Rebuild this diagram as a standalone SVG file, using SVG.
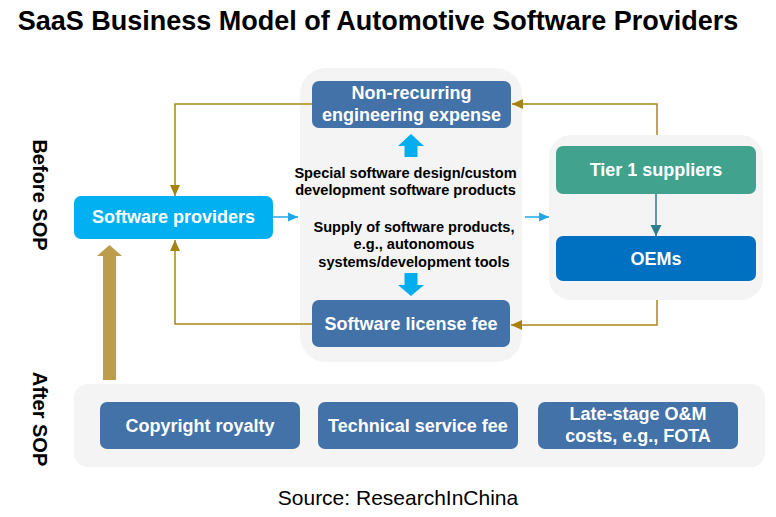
<svg xmlns="http://www.w3.org/2000/svg" width="776" height="517" viewBox="0 0 776 517">
<defs>
<marker id="mGold" markerUnits="userSpaceOnUse" markerWidth="12" markerHeight="12" viewBox="0 0 12 12" refX="11" refY="6" orient="auto">
<path d="M0,1 L11,6 L0,11 z" fill="#a8820f"/>
</marker>
<marker id="mBlue" markerUnits="userSpaceOnUse" markerWidth="10" markerHeight="10" viewBox="0 0 10 10" refX="10" refY="5" orient="auto">
<path d="M0,0.5 L10,5 L0,9.5 z" fill="#1fa8e6"/>
</marker>
<marker id="mTeal" markerUnits="userSpaceOnUse" markerWidth="12" markerHeight="12" viewBox="0 0 12 12" refX="11" refY="6" orient="auto">
<path d="M0,0.5 L11,6 L0,11.5 z" fill="#2f7d8a"/>
</marker>
</defs>
<style>
text{font-family:"Liberation Sans",Arial,sans-serif;}
.panel{fill:#f4f4f4;}
.node{stroke:none;}
.nb{fill:#4372a8;}
.lbl{fill:#ffffff;font-weight:bold;font-size:18px;text-anchor:middle;}
.mid{fill:#000000;font-weight:bold;font-size:14.6px;text-anchor:middle;}
.side{fill:#000000;font-weight:bold;font-size:20px;text-anchor:middle;}
.gold{fill:none;stroke:#ad8716;stroke-width:1.5;marker-end:url(#mGold);}
.blue{fill:none;stroke:#1fa8e6;stroke-width:1.5;marker-end:url(#mBlue);}
.teal{fill:none;stroke:#2f7d8a;stroke-width:1.5;marker-end:url(#mTeal);}
</style>
<rect width="776" height="517" fill="#ffffff"/>

<text x="378" y="30" font-size="27" font-weight="bold" text-anchor="middle" fill="#000">SaaS Business Model of Automotive Software Providers</text>

<g id="panels">
<rect class="panel" x="300" y="68" width="222" height="294" rx="26"/>
<rect class="panel" x="549" y="135" width="214" height="165" rx="22"/>
<rect class="panel" x="74" y="384" width="691" height="83" rx="14"/>
</g>

<g id="side-labels">
<text class="side" x="33" y="195" transform="rotate(90 33 195)">Before SOP</text>
<text class="side" x="33" y="419" transform="rotate(90 33 419)">After SOP</text>
</g>

<g id="connectors">
<path class="gold" d="M312,104 H175 V196"/>
<path class="gold" d="M657,135 V104 H512"/>
<path class="gold" d="M657,300 V325 H511"/>
<path class="gold" d="M312,324 H175 V240"/>
<path class="blue" d="M273,217 H298"/>
<path class="blue" d="M525,217 H549"/>
<path class="teal" d="M656,194 V236"/>
<polygon points="411,134 424,146 417.5,146 417.5,157 404.5,157 404.5,146 398,146" fill="#00aeef"/>
<polygon points="404.5,273 417.5,273 417.5,285 424,285 411,296 398,285 404.5,285" fill="#00aeef"/>
<polygon points="109.5,245 122,256 116,256 116,380 103,380 103,256 97,256" fill="#bd9c4c"/>
</g>

<g id="node-nre">
<rect class="node nb" x="312" y="81" width="199" height="47" rx="7"/>
<text class="lbl" x="411.5" y="99">Non-recurring</text>
<text class="lbl" x="411.5" y="121">engineering expense</text>
</g>

<g id="node-software-providers">
<rect class="node" x="74" y="196" width="199" height="43" rx="7" fill="#00b0f0"/>
<text class="lbl" x="173.5" y="223">Software providers</text>
</g>

<g id="node-tier1">
<rect class="node" x="556" y="146" width="200" height="48" rx="7" fill="#41a38e"/>
<text class="lbl" x="656" y="176">Tier 1 suppliers</text>
</g>

<g id="node-oems">
<rect class="node" x="556" y="236" width="200" height="45" rx="7" fill="#0070c0"/>
<text class="lbl" x="656" y="265">OEMs</text>
</g>

<g id="node-license">
<rect class="node nb" x="312" y="300" width="198" height="47" rx="7"/>
<text class="lbl" x="411" y="330">Software license fee</text>
</g>

<g id="mid-texts">
<text class="mid" x="405.5" y="178">Special software design/custom</text>
<text class="mid" x="405.5" y="195">development software products</text>
<text class="mid" x="414" y="232">Supply of software products,</text>
<text class="mid" x="414" y="249">e.g., autonomous</text>
<text class="mid" x="414" y="267">systems/development tools</text>
</g>

<g id="node-copyright">
<rect class="node nb" x="100" y="402" width="200" height="47" rx="7"/>
<text class="lbl" x="200" y="432">Copyright royalty</text>
</g>

<g id="node-technical">
<rect class="node nb" x="318" y="402" width="200" height="47" rx="7"/>
<text class="lbl" x="418" y="432">Technical service fee</text>
</g>

<g id="node-late">
<rect class="node nb" x="538" y="402" width="200" height="47" rx="7"/>
<text class="lbl" x="638" y="420">Late-stage O&amp;M</text>
<text class="lbl" x="638" y="442">costs, e.g., FOTA</text>
</g>

<text x="398" y="505" font-size="21" text-anchor="middle" fill="#000">Source: ResearchInChina</text>
</svg>
